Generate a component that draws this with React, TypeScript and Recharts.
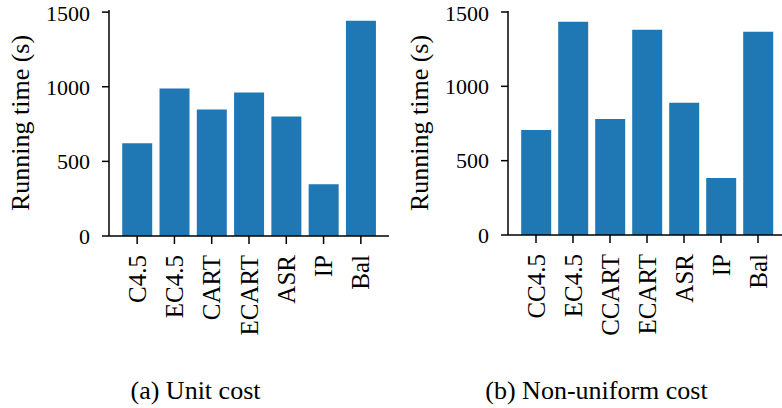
import { BarChart, Bar, XAxis, YAxis, Label } from 'recharts';

const unitMethods = ['C4.5', 'EC4.5', 'CART', 'ECART', 'ASR', 'IP', 'Bal'];
const unitTimes = [621, 988, 848, 961, 801, 347, 1442];

const costMethods = ['CC4.5', 'EC4.5', 'CCART', 'ECART', 'ASR', 'IP', 'Bal'];
const costTimes = [707, 1435, 781, 1381, 889, 384, 1368];

const yTicks = [0, 500, 1000, 1500];

const FONT = '"Liberation Serif", "Times New Roman", serif';
const BLUE = '#1f77b4';
const axisStyle = { stroke: '#000', strokeWidth: 1.5 };

const RotatedTick = (props: any) => {
  const { x, y, payload } = props;
  return (
    <text
      transform={`translate(${x},${y}) rotate(-90)`}
      textAnchor="end"
      dominantBaseline="central"
      fontFamily={FONT}
      fontSize={25}
      fill="#000"
    >
      {payload.value}
    </text>
  );
};

type PanelProps = {
  methods: string[];
  times: number[];
  width: number;
  axisX: number;
  top: number;
  bottom: number;
};

const Panel = ({ methods, times, width, axisX, top, bottom }: PanelProps) => {
  const data = methods.map((name, i) => ({ name, time: times[i] }));
  const yMax = Math.max(...times) * 1.05;
  const height = 350;

  return (
    <BarChart
      width={width}
      height={height}
      data={data}
      margin={{ top, right: 0, bottom: 0, left: 0 }}
      barCategoryGap="10%"
    >
      <XAxis
        dataKey="name"
        interval={0}
        height={height - bottom}
        padding={{ left: 9.5, right: 9.5 }}
        axisLine={axisStyle}
        tickLine={axisStyle}
        tickSize={8}
        tickMargin={11}
        tick={<RotatedTick />}
      />
      <XAxis
        xAxisId="top"
        orientation="top"
        dataKey="name"
        height={0}
        tick={false}
        tickLine={false}
        axisLine={axisStyle}
        padding={{ left: 9.5, right: 9.5 }}
      />
      <YAxis
        type="number"
        domain={[0, yMax]}
        ticks={yTicks}
        width={axisX}
        axisLine={axisStyle}
        tickLine={axisStyle}
        tickSize={7}
        tickMargin={12}
        tick={{ fontFamily: FONT, fontSize: 22, fill: '#000' }}
      >
        <Label
          content={(p: any) => {
            const vb = p.viewBox || { x: 0, y: top, width: axisX, height: bottom - top };
            const cx = vb.x + vb.width - 89;
            const cy = vb.y + vb.height / 2;
            return (
              <text
                transform={`translate(${cx},${cy}) rotate(-90)`}
                textAnchor="middle"
                dominantBaseline="central"
                fontFamily={FONT}
                fontSize={26}
                fill="#000"
              >
                Running time (s)
              </text>
            );
          }}
        />
      </YAxis>
      <Bar dataKey="time" fill={BLUE} isAnimationActive={false} />
    </BarChart>
  );
};

const captionStyle = {
  position: 'absolute' as const,
  top: 377,
  width: 391,
  textAlign: 'center' as const,
  fontFamily: FONT,
  fontSize: 26,
  lineHeight: '28px',
  color: '#000',
};

export default function App() {
  return (
    <div
      style={{
        position: 'absolute',
        left: 0,
        top: 0,
        width: 782,
        height: 408,
        overflow: 'hidden',
        background: '#fff',
      }}
    >
      <div style={{ position: 'absolute', left: 0, top: 0 }}>
        <Panel methods={unitMethods} times={unitTimes} width={389} axisX={109} top={10} bottom={236} />
      </div>
      <div style={{ position: 'absolute', left: 391, top: 0 }}>
        <Panel methods={costMethods} times={costTimes} width={395} axisX={117} top={11} bottom={235} />
      </div>
      <div style={{ ...captionStyle, left: 0 }}>(a) Unit cost</div>
      <div style={{ ...captionStyle, left: 401 }}>(b) Non-uniform cost</div>
    </div>
  );
}
